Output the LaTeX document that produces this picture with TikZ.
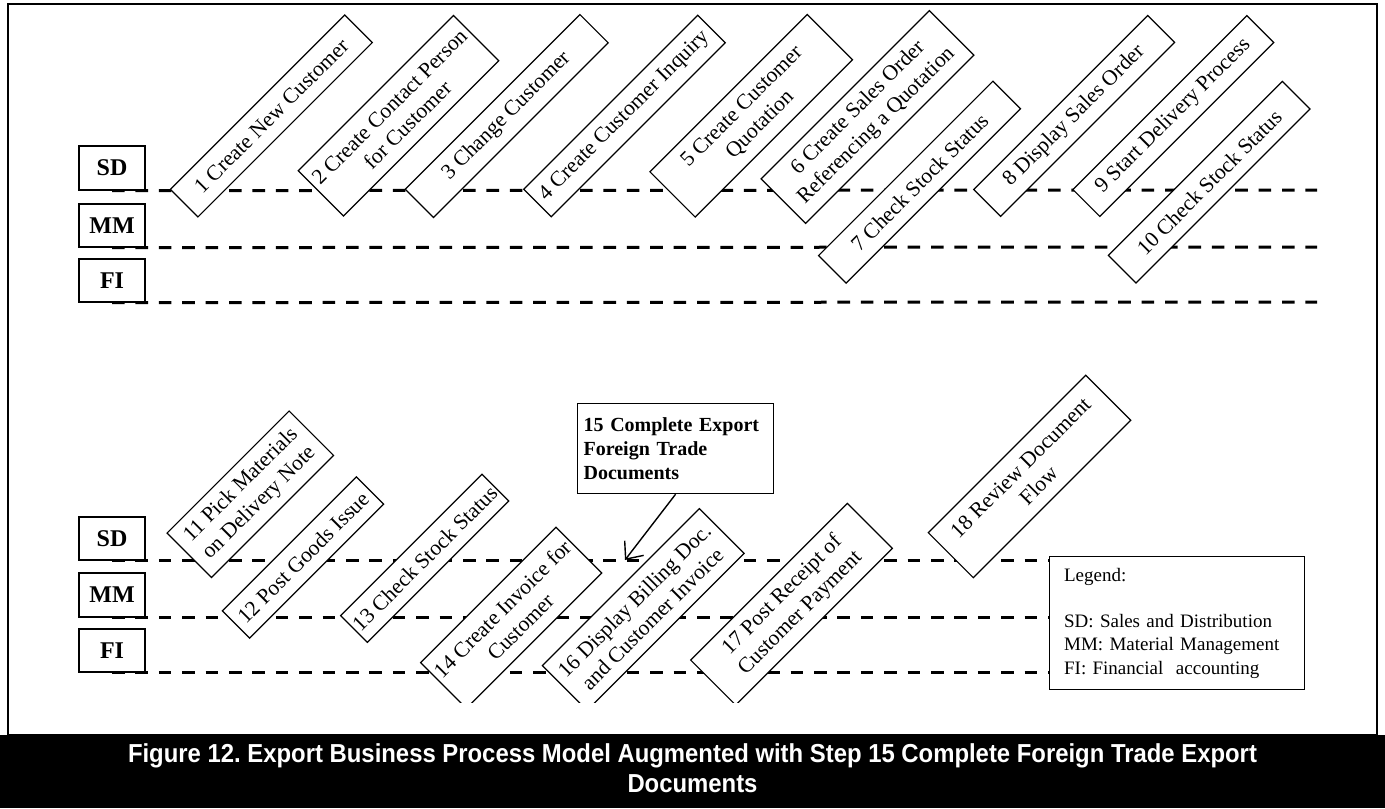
\documentclass[tikz,border=0pt]{standalone}
\usepackage{fontspec}
\setmainfont{Liberation Serif}
\newfontfamily\capfont{Liberation Sans}
\usetikzlibrary{arrows.meta}
\frenchspacing
\newcommand\capstyle{\capfont\bfseries\fontsize{13}{15}\selectfont}
\newlength\capw
\settowidth\capw{\capstyle Figure 12. Export Business Process Model Augmented with Step 15 Complete Foreign Trade Export}
\begin{document}
\begin{tikzpicture}[x=0.5pt,y=-0.5pt,
  task/.style={draw, fill=white, line width=0.6pt, rotate=45, align=center, inner sep=0pt,
    font=\fontsize{10.8}{12.8}\selectfont},
  lanebox/.style={draw, line width=0.6pt, font=\fontsize{12}{14}\selectfont\bfseries,
    minimum width=33pt, inner sep=0pt},
  lane/.style={line width=1.5pt, dash pattern=on 6.3pt off 5.4pt},
  capline/.style={anchor=base, text=white, inner sep=0pt},
]
\useasboundingbox (0,0) rectangle (1385,808);
\draw[line width=1pt] (8,4) rectangle (1377,735);
\fill (0,735) rectangle (1385,808);

% ---- top lanes
\node[lanebox, minimum height=22pt]   (sdA) at (112,168)   {SD};
\node[lanebox, minimum height=21.5pt] (mmA) at (112,225.5) {MM};
\node[lanebox, minimum height=21.5pt] (fiA) at (112,280.5) {FI};
\coordinate (sdAe) at (1317,190);
\coordinate (mmAe) at (1317,247);
\coordinate (fiAe) at (1317,302);
\draw[lane] (sdA.south) -- (sdAe);
\draw[lane] (mmA.south) -- (mmAe);
\draw[lane] (fiA.south) -- (fiAe);

\node[task, minimum width=123.3pt, minimum height=19.5pt] (t1) at (271.3,116) {1 Create New Customer};
\node[task, minimum width=109.8pt, minimum height=32pt] (t2) at (398.5,115.8) {2 Create Contact Person\\for Customer};
\node[task, minimum width=123.5pt, minimum height=20pt] (t3) at (506.7,116) {3 Change Customer};
\node[task, minimum width=123pt, minimum height=19.5pt] (t4) at (624.5,116) {4 Create Customer Inquiry};
\node[task, minimum width=111.2pt, minimum height=32pt] (t5) at (751.2,115.8) {5 Create Customer\\Quotation};
\node[task, minimum width=119pt, minimum height=31.5pt] (t6) at (867.5,117) {6 Create Sales Order\\Referencing a Quotation};
\node[task, minimum width=123.3pt, minimum height=19.5pt] (t7) at (919.5,182.2) {7 Check Stock Status};
\node[task, minimum width=123pt, minimum height=19pt] (t8) at (1074.2,116) {8 Display Sales Order};
\node[task, minimum width=123pt, minimum height=19pt] (t9) at (1173.3,116) {9 Start Delivery Process};
\node[task, minimum width=123pt, minimum height=19.5pt] (t10) at (1209.2,182.2) {10 Check Stock Status};

% ---- bottom lanes
\node[lanebox, minimum height=21.5pt] (sdB) at (112,538.5) {SD};
\node[lanebox, minimum height=22pt]   (mmB) at (112,595)   {MM};
\node[lanebox, minimum height=21.5pt] (fiB) at (112,650.5) {FI};

\node[draw, fill=white, line width=0.6pt, anchor=north west, minimum width=127.5pt,
  minimum height=66.5pt, text width=113pt, inner xsep=7pt, inner ysep=0pt, align=left,
  font=\fontsize{9.5}{11.6}\selectfont] (legend) at (1049,556)
  {Legend:\\[11.6pt]SD: Sales and Distribution\\MM: Material Management\\FI: Financial\ \ accounting};

\draw[lane] (sdB.south) -- (sdB.south -| legend.west);
\draw[lane] (mmB.south) -- (mmB.south -| legend.west);
\draw[lane] (fiB.south) -- (fiB.south -| legend.west);

\begin{scope}
\clip (0,0) rectangle (1385,702);
\node[task, minimum width=86.3pt, minimum height=31.4pt] (t11) at (250.3,494.2) {11 Pick Materials\\on Delivery Note};
\node[task, minimum width=94.8pt, minimum height=19.3pt] (t12) at (303,557.5) {12 Post Goods Issue};
\node[task, minimum width=100pt, minimum height=18.9pt] (t13) at (424.7,558.3) {13 Check Stock Status};
\node[task, minimum width=95.7pt, minimum height=32.3pt] (t14) at (511.2,617.8) {14 Create Invoice for\\Customer};
\node[task, minimum width=111pt, minimum height=31.6pt] (t16) at (643.2,609.5) {16 Display Billing Doc.\\and Customer Invoice};
\node[task, minimum width=110.8pt, minimum height=31.8pt] (t17) at (791.5,604.2) {17 Post Receipt of\\Customer Payment};
\end{scope}
\node[task, minimum width=111.3pt, minimum height=31.8pt] (t18) at (1029.5,476.5) {18 Review Document\\Flow};

\node[draw, fill=white, line width=0.6pt, anchor=north west, minimum width=98pt,
  minimum height=45pt, text width=92pt, inner xsep=3pt, inner ysep=0pt, align=left,
  font=\fontsize{10}{12.2}\selectfont\bfseries] (t15) at (577,403)
  {15 Complete Export\\Foreign Trade\\Documents};
\coordinate (a15) at (625,560);
\draw[line width=0.7pt, -{Straight Barb[length=7pt,width=12pt]}] (t15.south) -- (a15);

% ---- caption
\pgfmathsetmacro\capsc{564.5pt/\capw}
\node[capline] (cap1) at (692.5,762) {\scalebox{\capsc}[1]{\capstyle Figure 12. Export Business Process Model Augmented with Step 15 Complete Foreign Trade Export}};
\node[capline] (cap2) at (692.5,792) {\scalebox{\capsc}[1]{\capstyle Documents}};
\end{tikzpicture}
\end{document}
